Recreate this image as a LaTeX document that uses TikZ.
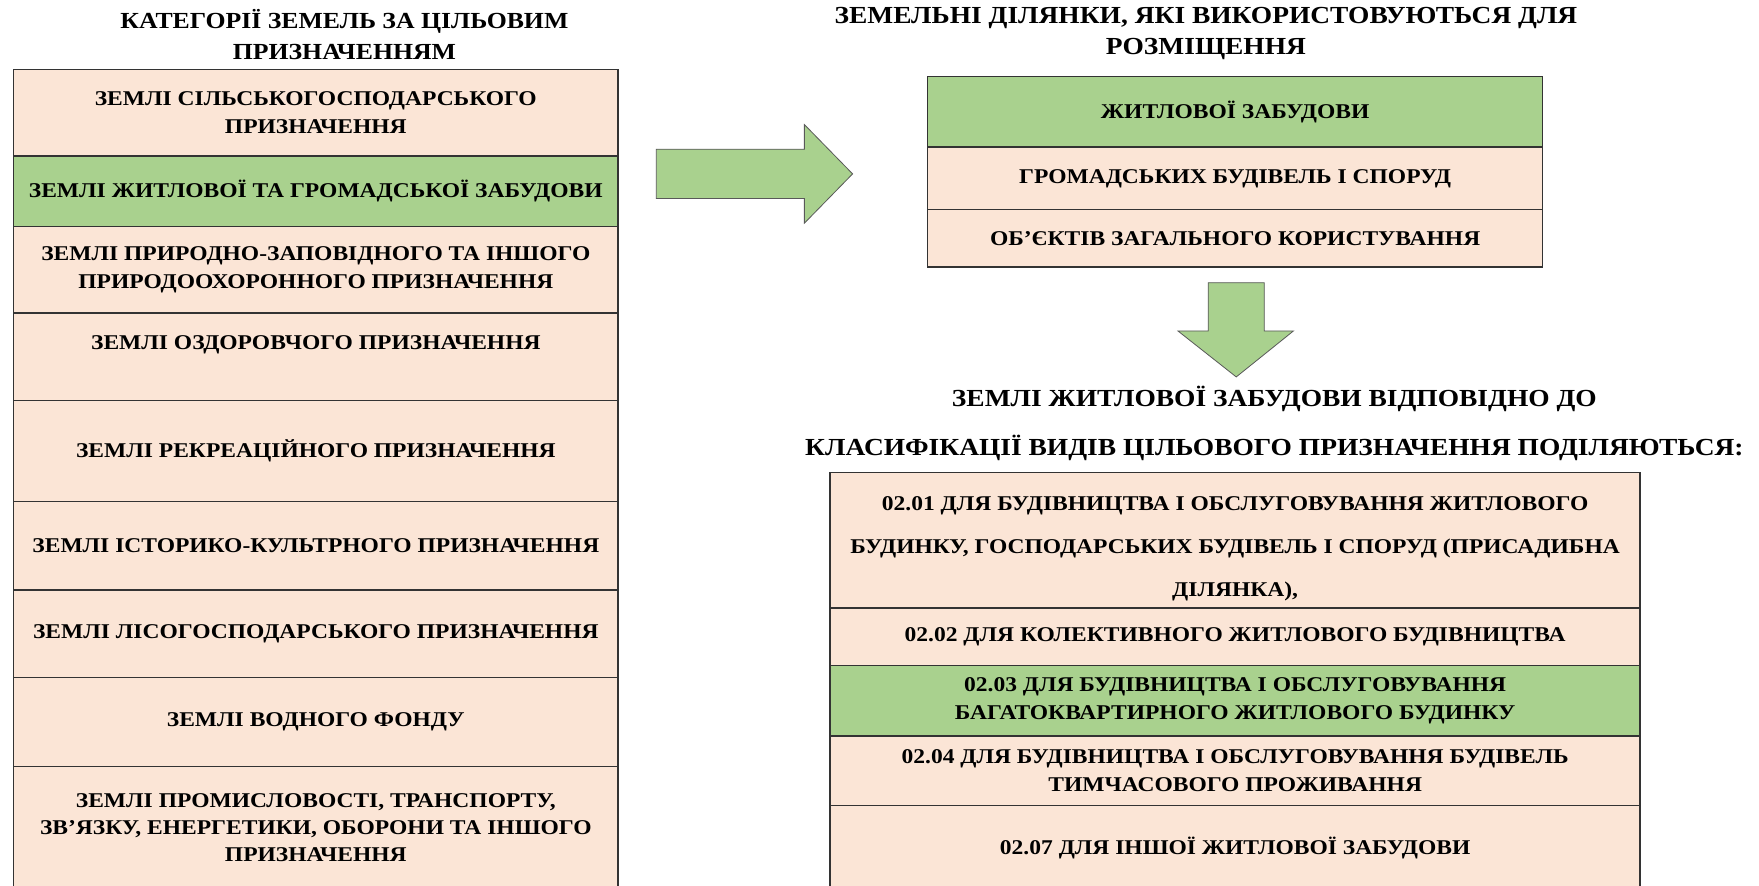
\documentclass[tikz,border=0pt]{standalone}
\usepackage{fontspec}
\setmainfont[FakeStretch=1.12]{Liberation Serif}
\definecolor{peach}{HTML}{FBE5D6}
\definecolor{leaf}{HTML}{A9D18E}
\definecolor{edge}{HTML}{333333}
\tikzset{
  cellbox/.style={draw=edge, line width=1.4pt, inner sep=0pt, align=center,
    font=\fontsize{21}{28}\selectfont\bfseries},
  rcellbox/.style={cellbox},
  titletext/.style={inner sep=0pt, align=center, font=\fontsize{23}{31.4}\selectfont\bfseries},
  blockarrow/.style={fill=leaf, draw=black!65, line width=0.8pt, line join=miter}
}
\newcommand\mkcell[8]{\node[#1, fill=#7, minimum width={(#5-#3)*1.1218pt}, minimum height={(#6-#4)*1.1218pt}] (#2) at ({(#3+#5)/2},{(#4+#6)/2}) {#8};}
\begin{document}
\begin{tikzpicture}[x=1.1218pt,y=-1.1218pt]
\useasboundingbox (0,0) rectangle (1568,789);
\clip (0,0) rectangle (1568,789);
% left title
\node[titletext] (lt) at (307,31) {КАТЕГОРІЇ ЗЕМЕЛЬ ЗА ЦІЛЬОВИМ\\ПРИЗНАЧЕННЯМ};
% left column
\mkcell{cellbox}{l1}{12}{62}{551}{139}{peach}{ЗЕМЛІ СІЛЬСЬКОГОСПОДАРСЬКОГО\\ПРИЗНАЧЕННЯ}
\mkcell{cellbox}{l2}{12}{139}{551}{202}{leaf}{ЗЕМЛІ ЖИТЛОВОЇ ТА ГРОМАДСЬКОЇ ЗАБУДОВИ}
\mkcell{cellbox}{l3}{12}{202}{551}{279}{peach}{ЗЕМЛІ ПРИРОДНО-ЗАПОВІДНОГО ТА ІНШОГО\\ПРИРОДООХОРОННОГО ПРИЗНАЧЕННЯ}
\mkcell{cellbox}{l4}{12}{279}{551}{357}{peach}{ЗЕМЛІ ОЗДОРОВЧОГО ПРИЗНАЧЕННЯ\\\mbox{}}
\mkcell{cellbox}{l5}{12}{357}{551}{447}{peach}{ЗЕМЛІ РЕКРЕАЦІЙНОГО ПРИЗНАЧЕННЯ}
\mkcell{cellbox}{l6}{12}{447}{551}{526}{peach}{ЗЕМЛІ ІСТОРИКО-КУЛЬТРНОГО ПРИЗНАЧЕННЯ}
\mkcell{cellbox}{l7}{12}{526}{551}{604}{peach}{ЗЕМЛІ ЛІСОГОСПОДАРСЬКОГО ПРИЗНАЧЕННЯ}
\mkcell{cellbox}{l8}{12}{604}{551}{683}{peach}{ЗЕМЛІ ВОДНОГО ФОНДУ}
\mkcell{cellbox, font=\fontsize{21}{27}\selectfont\bfseries}{l9}{12}{683}{551}{793}{peach}{ЗЕМЛІ ПРОМИСЛОВОСТІ, ТРАНСПОРТУ,\\ЗВ'ЯЗКУ, ЕНЕРГЕТИКИ, ОБОРОНИ ТА ІНШОГО\\ПРИЗНАЧЕННЯ}
% right arrow
\draw[blockarrow] (585,133) -- (717,133) -- (717,111) -- (760,155) -- (717,199) -- (717,177) -- (585,177) -- cycle;
% right title
\node[titletext, font=\fontsize{24.5}{31.4}\selectfont\bfseries] (rt) at (1075,30) {ЗЕМЕЛЬНІ ДІЛЯНКИ, ЯКІ ВИКОРИСТОВУЮТЬСЯ ДЛЯ\\РОЗМІЩЕННЯ};
% top right box
\mkcell{rcellbox}{r1}{827}{68}{1375}{131}{leaf}{ЖИТЛОВОЇ ЗАБУДОВИ}
\mkcell{rcellbox}{r2}{827}{131}{1375}{187}{peach}{ГРОМАДСЬКИХ БУДІВЕЛЬ І СПОРУД}
\mkcell{rcellbox}{r3}{827}{187}{1375}{238}{peach}{ОБ'ЄКТІВ ЗАГАЛЬНОГО КОРИСТУВАННЯ}
% down arrow
\draw[blockarrow] (1077,252) -- (1127,252) -- (1127,295) -- (1153,295) -- (1102,336) -- (1050,295) -- (1077,295) -- cycle;
% middle text
\node[titletext, font=\fontsize{24.5}{49}\selectfont\bfseries] (mt) at (1136,377) {ЗЕМЛІ ЖИТЛОВОЇ ЗАБУДОВИ ВІДПОВІДНО ДО\\КЛАСИФІКАЦІЇ ВИДІВ ЦІЛЬОВОГО ПРИЗНАЧЕННЯ ПОДІЛЯЮТЬСЯ:};
% bottom right box
\mkcell{rcellbox}{b1}{740}{421}{1462}{542}{peach}{}
\node[inner sep=0pt, align=center, font=\fontsize{21}{43}\selectfont\bfseries] (b1t) at ([yshift=-8.5pt]b1.center) {02.01 ДЛЯ БУДІВНИЦТВА І ОБСЛУГОВУВАННЯ ЖИТЛОВОГО\\БУДИНКУ, ГОСПОДАРСЬКИХ БУДІВЕЛЬ І СПОРУД (ПРИСАДИБНА\\ДІЛЯНКА),};
\mkcell{rcellbox}{b2}{740}{542}{1462}{593}{peach}{02.02 ДЛЯ КОЛЕКТИВНОГО ЖИТЛОВОГО БУДІВНИЦТВА}
\mkcell{rcellbox}{b3}{740}{593}{1462}{656}{leaf}{02.03 ДЛЯ БУДІВНИЦТВА І ОБСЛУГОВУВАННЯ\\БАГАТОКВАРТИРНОГО ЖИТЛОВОГО БУДИНКУ}
\mkcell{rcellbox}{b4}{740}{656}{1462}{718}{peach}{02.04 ДЛЯ БУДІВНИЦТВА І ОБСЛУГОВУВАННЯ БУДІВЕЛЬ\\ТИМЧАСОВОГО ПРОЖИВАННЯ}
\mkcell{rcellbox}{b5}{740}{718}{1462}{793}{peach}{02.07 ДЛЯ ІНШОЇ ЖИТЛОВОЇ ЗАБУДОВИ}
\end{tikzpicture}
\end{document}
